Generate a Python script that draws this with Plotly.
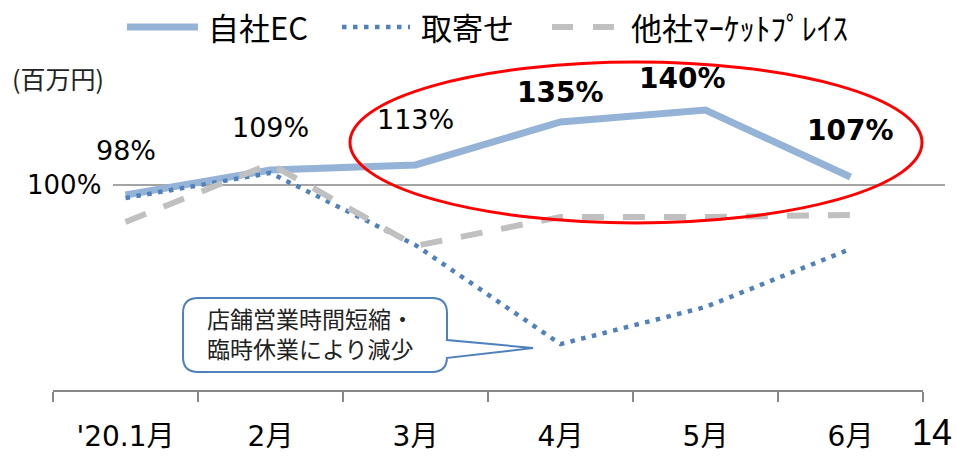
import plotly.graph_objects as go

categories = ["'20.1月", "2月", "3月", "4月", "5月", "6月"]
own_ec = [95.1, 107.3, 109.8, 130.8, 136.6, 103.9]
toriyose = [93.7, 105.9, 70.7, 22.4, 40.5, 68.8]
other_mp = [82.0, 110.3, 70.3, 84.4, 84.4, 85.4]
own_ec_labels = ["98%", "109%", "113%", "135%", "140%", "107%"]
label_bold = [False, False, False, True, True, True]
label_yshift = [45, 43, 45, 29, 32, 47]
label_xshift = [0, 0, 0, 0, -23, 0]
series_names = ["自社EC", "取寄せ", "他社ﾏｰｹｯﾄﾌﾟﾚｲｽ"]
callout_lines = ["店舗営業時間短縮・", "臨時休業により減少"]

W, H = 956, 456
L, R, T, B = 53, 33, 60, 66
PW, PH = W - L - R, H - T - B


def px(x):
    return (x - L) / PW


def py(y):
    return (H - B - y) / PH


JP = "Noto Sans CJK JP"
NUM = "DejaVu Sans, Noto Sans CJK JP"
DOT = "4.5px,6.5px"

fig = go.Figure()
fig.add_trace(go.Scatter(x=categories, y=own_ec, mode="lines", name=series_names[0],
                         line=dict(color="#95b3d7", width=7), showlegend=False))
fig.add_trace(go.Scatter(x=categories, y=toriyose, mode="lines", name=series_names[1],
                         line=dict(color="#4f81bd", width=4.5, dash=DOT), showlegend=False))
fig.add_trace(go.Scatter(x=categories, y=other_mp, mode="lines", name=series_names[2],
                         line=dict(color="#c0c0c0", width=6, dash="22px,19px"), showlegend=False))

shapes = []
# 100% reference line
shapes.append(dict(type="line", xref="paper", yref="y", x0=px(113), x1=px(945), y0=100, y1=100,
                   line=dict(color="#868686", width=1.5), layer="below"))
# red ellipse
shapes.append(dict(type="circle", xref="paper", yref="paper", x0=px(350), x1=px(922),
                   y0=py(223), y1=py(62), line=dict(color="#ff0000", width=3)))

# callout box
x0b, x1b, y0b, y1b, r = 183, 447, 298, 372, 15
pts = [("M", x0b + r, y0b), ("L", x1b - r, y0b), ("Q", x1b, y0b, x1b, y0b + r),
       ("L", x1b, 340), ("L", 533, 348), ("L", x1b, 358), ("L", x1b, y1b - r),
       ("Q", x1b, y1b, x1b - r, y1b), ("L", x0b + r, y1b), ("Q", x0b, y1b, x0b, y1b - r),
       ("L", x0b, y0b + r), ("Q", x0b, y0b, x0b + r, y0b)]
path = ""
for p in pts:
    cmd = p[0]
    coords = p[1:]
    s = " ".join(f"{px(coords[i]):.5f},{py(coords[i + 1]):.5f}" for i in range(0, len(coords), 2))
    path += f"{cmd}{s} "
path += "Z"
shapes.append(dict(type="path", xref="paper", yref="paper", path=path,
                   fillcolor="white", line=dict(color="#4f81bd", width=2)))

# legend samples
ly = py(27)
shapes.append(dict(type="line", xref="paper", yref="paper", x0=px(127), x1=px(198), y0=ly, y1=ly,
                   line=dict(color="#95b3d7", width=7)))
shapes.append(dict(type="line", xref="paper", yref="paper", x0=px(342), x1=px(410), y0=ly, y1=ly,
                   line=dict(color="#4f81bd", width=4.5, dash=DOT)))
shapes.append(dict(type="line", xref="paper", yref="paper", x0=px(552), x1=px(616), y0=ly, y1=ly,
                   line=dict(color="#c0c0c0", width=6, dash="21px,20px")))

annotations = []
for i, (lab, b) in enumerate(zip(own_ec_labels, label_bold)):
    annotations.append(dict(x=categories[i], y=own_ec[i], xref="x", yref="y", text=f"<b>{lab}</b>" if b else lab,
                            showarrow=False, yshift=label_yshift[i], xshift=label_xshift[i],
                            font=dict(family="DejaVu Sans", size=28 if b else 27, color="black")))
annotations.append(dict(x=px(103), y=100, xref="paper", yref="y", text="100%", xanchor="right",
                        showarrow=False, font=dict(family="DejaVu Sans", size=26, color="black")))
annotations.append(dict(x=px(10), y=py(78), xref="paper", yref="paper", text="(百万円)", xanchor="left",
                        yanchor="middle", showarrow=False, font=dict(family=JP, size=25, color="#222222")))
annotations.append(dict(x=px(932), y=py(432), xref="paper", yref="paper", text="14", xanchor="center",
                        yanchor="middle", showarrow=False,
                        font=dict(family="Liberation Sans", size=36, color="black")))
annotations.append(dict(x=px(205), y=py(333), xref="paper", yref="paper", text="<br>".join(callout_lines),
                        xanchor="left", yanchor="middle", align="left", showarrow=False,
                        font=dict(family=JP, size=23, color="#222222")))
for t, xx in zip(series_names, [206, 419, 629]):
    annotations.append(dict(x=px(xx), y=ly, xref="paper", yref="paper", text=t, xanchor="left",
                            yanchor="middle", showarrow=False, font=dict(family=JP, size=31, color="black")))

fig.update_layout(
    width=W, height=H,
    margin=dict(l=L, r=R, t=T, b=B, autoexpand=False),
    paper_bgcolor="white", plot_bgcolor="white",
    shapes=shapes, annotations=annotations, showlegend=False,
    xaxis=dict(type="category", range=[-0.5, 5.5], tickson="boundaries", ticks="outside", ticklen=10,
               tickcolor="#888888", tickwidth=1.5, showline=True, linecolor="#888888", linewidth=1.5,
               showgrid=False, tickfont=dict(family=NUM, size=28, color="black"), ticklabelstandoff=21,
               automargin=False),
    yaxis=dict(range=[0, 161], showticklabels=False, showgrid=False, zeroline=False, showline=False,
               automargin=False),
)
fig.write_html("out.html", config={"displayModeBar": False},
               post_script="document.body.style.margin='0';document.body.style.overflow='hidden';")
